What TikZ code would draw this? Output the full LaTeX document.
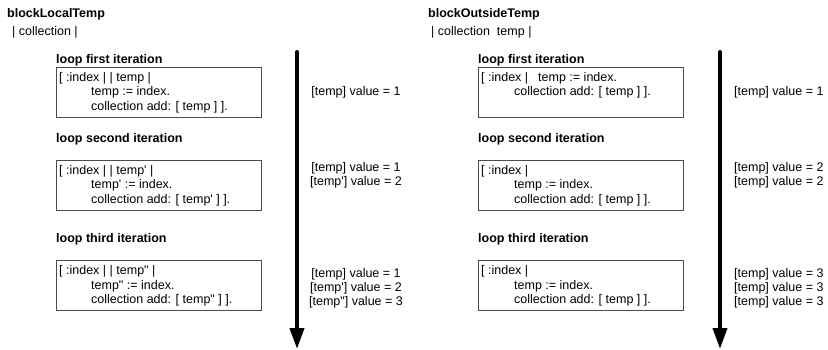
\documentclass[tikz,border=0pt]{standalone}
\usepackage{fontspec}
\newfontfamily\arialf{Liberation Sans}
\usetikzlibrary{arrows.meta}
\begin{document}
\begin{tikzpicture}[x=1pt,y=-1pt,
  txt/.style={anchor=base west,inner sep=0pt,font=\arialf\fontsize{12.5}{15}\selectfont,text=black},
  ttl/.style={txt,font=\arialf\bfseries\fontsize{12.5}{15}\selectfont},
  val/.style={txt,anchor=base},
  codebox/.style={draw=black!70,line width=1pt,anchor=north west,minimum width=205pt,minimum height=50pt,inner sep=0pt},
  timeline/.style={line width=4pt,line cap=round,-{Triangle[width=14pt,length=21pt]}}]
\useasboundingbox (0,0) rectangle (828,350);
% ---------------- left panel ----------------
\node[ttl] (lt) at (7,17.5) {blockLocalTemp};
\node[txt] (lv) at (12,36) {| collection |};
\node[ttl] (l1t) at (56,63.5) {loop first iteration};
\node[codebox] (l1) at (56,67) {};
\node[txt] (l1a) at (59,81.5) {[ :index | | temp |};
\node[txt] (l1b) at (91,96) {temp := index.};
\node[txt] (l1c) at (91,110.5) {collection add: [ temp ] ].};
\node[ttl] (l2t) at (56,142.5) {loop second iteration};
\node[codebox] (l2) at (56,160) {};
\node[txt] (l2a) at (59,174.5) {[ :index | | temp' |};
\node[txt] (l2b) at (91,189) {temp' := index.};
\node[txt] (l2c) at (91,203.5) {collection add: [ temp' ] ].};
\node[ttl] (l3t) at (56,242.5) {loop third iteration};
\node[codebox] (l3) at (56,260) {};
\node[txt] (l3a) at (59,274.5) {[ :index | | temp" |};
\node[txt] (l3b) at (91,289) {temp" := index.};
\node[txt] (l3c) at (91,303.5) {collection add: [ temp" ] ].};
\coordinate (la) at (297,52);
\coordinate (lb) at (297,349);
\draw[timeline] (la) -- (lb);
\node[val] (lv1) at (356,95.5) {[temp] value = 1};
\node[val] (lv2a) at (356,171.5) {[temp] value = 1};
\node[val] (lv2b) at (356,185.5) {[temp'] value = 2};
\node[val] (lv3a) at (356,277.5) {[temp] value = 1};
\node[val] (lv3b) at (356,291.5) {[temp'] value = 2};
\node[val] (lv3c) at (356,305.5) {[temp"] value = 3};
% ---------------- right panel ----------------
\node[ttl] (rt) at (428,17.5) {blockOutsideTemp};
\node[txt] (rv) at (431,36) {| collection\hspace{3.5pt} temp |};
\node[ttl] (r1t) at (478,63.5) {loop first iteration};
\node[codebox] (r1) at (478,67) {};
\node[txt] (r1a) at (481,81.5) {[ :index |\hspace{10pt}temp := index.};
\node[txt] (r1b) at (514,96) {collection add: [ temp ] ].};
\node[ttl] (r2t) at (478,142.5) {loop second iteration};
\node[codebox] (r2) at (478,160) {};
\node[txt] (r2a) at (481,174.5) {[ :index |};
\node[txt] (r2b) at (514,189) {temp := index.};
\node[txt] (r2c) at (514,203.5) {collection add: [ temp ] ].};
\node[ttl] (r3t) at (478,242.5) {loop third iteration};
\node[codebox] (r3) at (478,260) {};
\node[txt] (r3a) at (481,274.5) {[ :index |};
\node[txt] (r3b) at (514,289) {temp := index.};
\node[txt] (r3c) at (514,303.5) {collection add: [ temp ] ].};
\coordinate (ra) at (720,52);
\coordinate (rb) at (720,349);
\draw[timeline] (ra) -- (rb);
\node[txt] (rv1) at (734,95.5) {[temp] value = 1};
\node[txt] (rv2a) at (734,171.5) {[temp] value = 2};
\node[txt] (rv2b) at (734,185.5) {[temp] value = 2};
\node[txt] (rv3a) at (734,277.5) {[temp] value = 3};
\node[txt] (rv3b) at (734,291.5) {[temp] value = 3};
\node[txt] (rv3c) at (734,305.5) {[temp] value = 3};
\end{tikzpicture}
\end{document}
